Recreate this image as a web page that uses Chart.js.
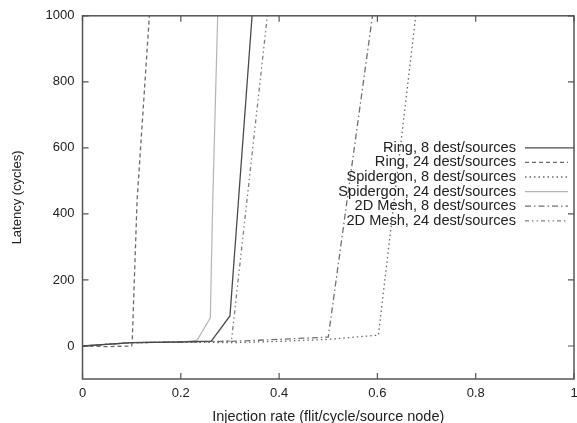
<!DOCTYPE html>
<html>
<head>
<meta charset="utf-8">
<script src="https://cdn.jsdelivr.net/npm/chart.js@4"></script>
<style>
    html, body { margin: 0; padding: 0; background: #fff; }
    #wrap { width: 577px; height: 423px; }
</style>
</head>
<body>
<div id="wrap"><canvas id="latencyChart" width="577" height="423"></canvas></div>
<script>
const seriesLabels = [
    "Ring, 8 dest/sources",
    "Ring, 24 dest/sources",
    "Spidergon, 8 dest/sources",
    "Spidergon, 24 dest/sources",
    "2D Mesh, 8 dest/sources",
    "2D Mesh, 24 dest/sources",
];

// injection rate / latency pairs, one pair of arrays per curve
const ring8Rate = [0, 0.1, 0.2, 0.262, 0.30, 0.345];
const ring8Lat = [0, 10, 12, 15, 91, 1000];

const ring24Rate = [0, 0.05, 0.1, 0.101, 0.111, 0.136];
const ring24Lat = [0, -2, 0, 10, 440, 1000];

const spider8Rate = [0, 0.1, 0.2, 0.3, 0.4, 0.5, 0.602, 0.678];
const spider8Lat = [0, 10, 12, 10, 14, 20, 33, 1000];

const spider24Rate = [0, 0.1, 0.2, 0.233, 0.26, 0.265, 0.275];
const spider24Lat = [0, 10, 12, 17, 85, 440, 1000];

const mesh8Rate = [0, 0.1, 0.2, 0.3, 0.4, 0.5, 0.59];
const mesh8Lat = [0, 10, 12, 14, 20, 27, 1000];

const mesh24Rate = [0, 0.1, 0.2, 0.303, 0.376];
const mesh24Lat = [0, 10, 12, 15, 1000];

const xTicks = [0, 0.2, 0.4, 0.6, 0.8, 1];
const yTicks = [0, 200, 400, 600, 800, 1000];

const lineColors = ["#4a4a4a", "#6a6a6a", "#6a6a6a", "#b4b4b4", "#707070", "#808080"];
const lineDashes = [[], [4, 3], [1.5, 3], [], [6, 3, 1.5, 3], [4, 3, 1.5, 3, 1.5, 3]];
const lineWidths = [1.3, 1.3, 1.3, 1.2, 1.3, 1.3];

const FONT = "'Liberation Sans', Arial, sans-serif";

function pairs(xs, ys) {
    return xs.map((x, i) => ({ x: x, y: ys[i] }));
}

const allSeries = [
    pairs(ring8Rate, ring8Lat),
    pairs(ring24Rate, ring24Lat),
    pairs(spider8Rate, spider8Lat),
    pairs(spider24Rate, spider24Lat),
    pairs(mesh8Rate, mesh8Lat),
    pairs(mesh24Rate, mesh24Lat),
];

// gnuplot-like frame with inward ticks on all four sides
const framePlugin = {
    id: "frame",
    afterDatasetsDraw(chart) {
        const { ctx, chartArea: a, scales } = chart;
        ctx.save();
        ctx.strokeStyle = "#555";
        ctx.lineWidth = 1.5;
        ctx.strokeRect(a.left, a.top, a.right - a.left, a.bottom - a.top);
        ctx.lineWidth = 1.2;
        ctx.beginPath();
        xTicks.forEach((v) => {
            const px = scales.x.getPixelForValue(v);
            ctx.moveTo(px, a.bottom); ctx.lineTo(px, a.bottom - 6);
            ctx.moveTo(px, a.top); ctx.lineTo(px, a.top + 6);
        });
        yTicks.forEach((v) => {
            const py = scales.y.getPixelForValue(v);
            ctx.moveTo(a.left, py); ctx.lineTo(a.left + 6, py);
            ctx.moveTo(a.right, py); ctx.lineTo(a.right - 6, py);
        });
        ctx.stroke();
        ctx.restore();
    },
};

// key: right-aligned text with line sample on its right
const keyPlugin = {
    id: "key",
    afterDatasetsDraw(chart) {
        const { ctx, chartArea: a } = chart;
        const textRight = a.right - 58;
        const sampleL = a.right - 49;
        const sampleR = a.right - 6;
        const top = a.top + 132;
        ctx.save();
        ctx.font = "14.6px " + FONT;
        ctx.textAlign = "right";
        ctx.textBaseline = "middle";
        chart.data.datasets.forEach((ds, i) => {
            const y = top + i * 14.6;
            ctx.fillStyle = "#222";
            ctx.fillText(ds.label, textRight, y);
            ctx.strokeStyle = ds.borderColor;
            ctx.lineWidth = ds.borderWidth;
            ctx.setLineDash(ds.borderDash);
            ctx.beginPath();
            ctx.moveTo(sampleL, y);
            ctx.lineTo(sampleR, y);
            ctx.stroke();
        });
        ctx.restore();
    },
};

const ctx = document.getElementById("latencyChart").getContext("2d");

new Chart(ctx, {
    type: "scatter",
    data: {
        datasets: allSeries.map((pts, i) => ({
            label: seriesLabels[i],
            data: pts,
            showLine: true,
            borderColor: lineColors[i],
            borderDash: lineDashes[i],
            borderWidth: lineWidths[i],
            pointRadius: 0,
            fill: false,
            tension: 0,
        })),
    },
    options: {
        responsive: false,
        animation: false,
        clip: true,
        layout: { padding: { top: 10, right: 0, left: 10, bottom: -3 } },
        plugins: {
            legend: { display: false },
            tooltip: { enabled: false },
        },
        scales: {
            x: {
                type: "linear",
                min: 0,
                max: 1,
                afterBuildTicks: (s) => { s.ticks = xTicks.map((v) => ({ value: v })); },
                // the "1" label is allowed to run off the right edge, as in the original
                afterFit: (s) => { s.paddingRight = 3; },
                grid: { display: false, drawTicks: false },
                border: { display: false },
                ticks: {
                    color: "#222", font: { family: FONT, size: 13 }, padding: 7, maxRotation: 0,
                    callback: (v) => String(v),
                },
                title: {
                    display: true,
                    text: "Injection rate (flit/cycle/source node)",
                    color: "#222",
                    font: { family: FONT, size: 14.5 },
                    padding: { top: 0, bottom: 0 },
                },
            },
            y: {
                type: "linear",
                min: -100,
                max: 1000,
                afterBuildTicks: (s) => { s.ticks = yTicks.map((v) => ({ value: v })); },
                grid: { display: false, drawTicks: false },
                border: { display: false },
                ticks: {
                    color: "#222", font: { family: FONT, size: 13 }, padding: 8,
                    callback: (v) => String(v),
                },
                title: {
                    display: true,
                    text: "Latency (cycles)",
                    color: "#222",
                    font: { family: FONT, size: 13 },
                    padding: { top: 0, bottom: 12 },
                },
            },
        },
    },
    plugins: [framePlugin, keyPlugin],
});
</script>
</body>
</html>
